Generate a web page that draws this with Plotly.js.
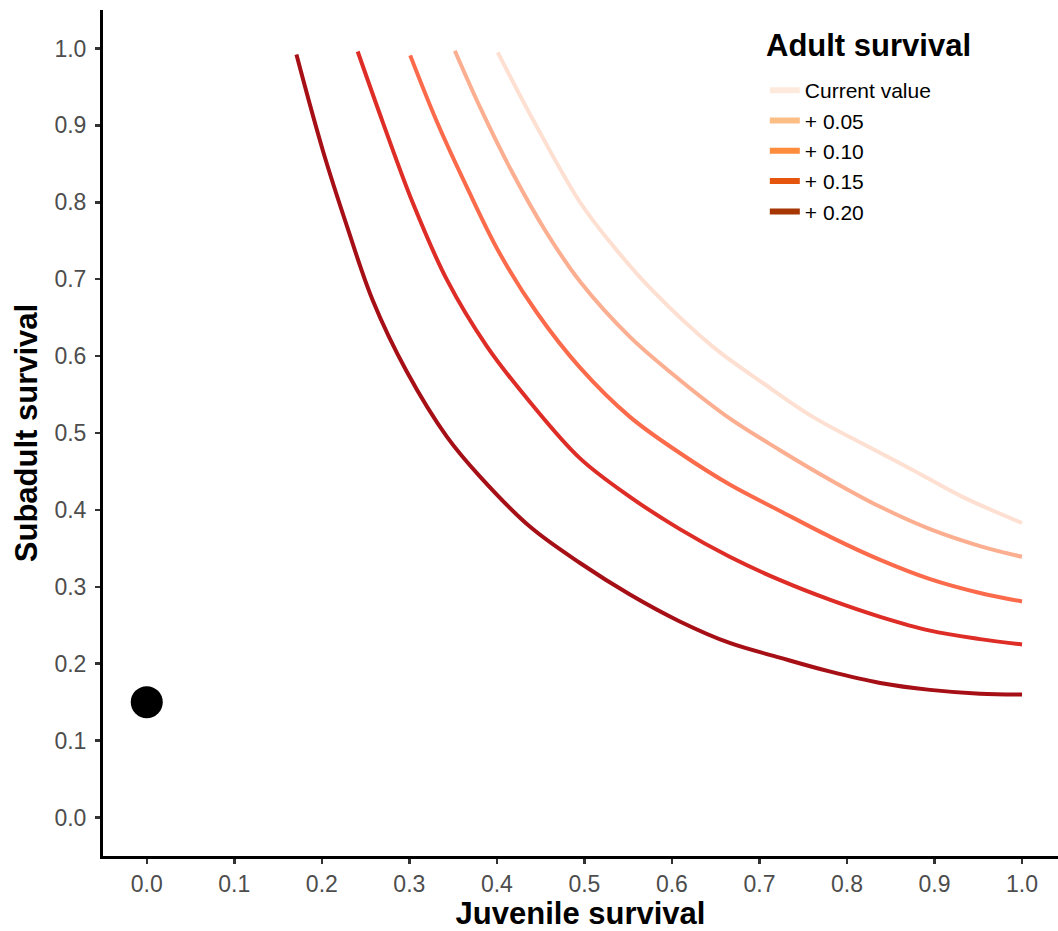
<!DOCTYPE html>
<html>
<head>
<meta charset="utf-8">
<script src="https://cdn.plot.ly/plotly-3.0.1.min.js"></script>
<style>html,body{margin:0;padding:0;background:#fff;}#chart{width:1058px;height:931px;}</style>
</head>
<body>
<div id="chart"></div>
<script>
// Series labels (legend) and colours
const legendTitle = "Adult survival";
const seriesNames = ["Current value", "+ 0.05", "+ 0.10", "+ 0.15", "+ 0.20"];
const lineColors = ["#fee0d2", "#fcae91", "#fb6a4a", "#de2d26", "#a50f15"];
const legendColors = ["#feeadd", "#fdbe85", "#fd8d3c", "#e6550d", "#a63603"];

// Curve: current adult survival
const xCurrent = [0.401, 0.441, 0.495, 0.533, 0.578, 0.647, 0.704, 0.761, 0.818, 0.875, 0.932, 1.0];
const yCurrent = [0.995, 0.908, 0.800, 0.743, 0.685, 0.612, 0.565, 0.521, 0.486, 0.452, 0.417, 0.383];

// Curve: +0.05
const xPlus05 = [0.352, 0.381, 0.418, 0.457, 0.495, 0.552, 0.609, 0.666, 0.723, 0.781, 0.838, 0.895, 0.952, 1.0];
const yPlus05 = [0.997, 0.923, 0.838, 0.760, 0.697, 0.625, 0.569, 0.519, 0.478, 0.439, 0.404, 0.375, 0.353, 0.339];

// Curve: +0.10
const xPlus10 = [0.301, 0.331, 0.366, 0.403, 0.446, 0.495, 0.552, 0.609, 0.666, 0.723, 0.781, 0.838, 0.895, 0.952, 1.0];
const yPlus10 = [0.991, 0.906, 0.819, 0.734, 0.656, 0.585, 0.521, 0.474, 0.433, 0.399, 0.365, 0.335, 0.310, 0.292, 0.281];

// Curve: +0.15
const xPlus15 = [0.241, 0.270, 0.304, 0.343, 0.389, 0.438, 0.495, 0.552, 0.609, 0.666, 0.723, 0.781, 0.838, 0.895, 0.952, 1.0];
const yPlus15 = [0.996, 0.903, 0.799, 0.699, 0.612, 0.540, 0.467, 0.417, 0.375, 0.339, 0.309, 0.283, 0.261, 0.243, 0.232, 0.225];

// Curve: +0.20
const xPlus20 = [0.171, 0.201, 0.229, 0.258, 0.297, 0.343, 0.381, 0.438, 0.495, 0.552, 0.609, 0.666, 0.723, 0.780, 0.838, 0.895, 0.952, 1.0];
const yPlus20 = [0.992, 0.868, 0.768, 0.673, 0.580, 0.495, 0.443, 0.378, 0.331, 0.290, 0.255, 0.227, 0.208, 0.190, 0.175, 0.166, 0.161, 0.160];

// Observed point
const pointX = [0.0];
const pointY = [0.15];

// Axis ticks
const tickVals = [0.0, 0.1, 0.2, 0.3, 0.4, 0.5, 0.6, 0.7, 0.8, 0.9, 1.0];
const tickText = ["0.0", "0.1", "0.2", "0.3", "0.4", "0.5", "0.6", "0.7", "0.8", "0.9", "1.0"];

const xs = [xCurrent, xPlus05, xPlus10, xPlus15, xPlus20];
const ys = [yCurrent, yPlus05, yPlus10, yPlus15, yPlus20];

const traces = [];
for (let i = 0; i < xs.length; i++) {
  traces.push({
    x: xs[i], y: ys[i], type: "scatter", mode: "lines",
    line: {color: lineColors[i], width: 4, shape: "spline", smoothing: 1.0},
    showlegend: false, hoverinfo: "skip"
  });
}
for (let i = 0; i < seriesNames.length; i++) {
  traces.push({
    x: [null], y: [null], type: "scatter", mode: "lines",
    name: seriesNames[i],
    line: {color: legendColors[i], width: 6},
    showlegend: true
  });
}
traces.push({
  x: pointX, y: pointY, type: "scatter", mode: "markers",
  marker: {color: "#000000", size: 32}, showlegend: false
});

const axisCommon = {
  showgrid: false, zeroline: false,
  showline: true, linecolor: "#000000", linewidth: 3,
  ticks: "outside", ticklen: 5, tickwidth: 2.5, tickcolor: "#333333",
  tickvals: tickVals, ticktext: tickText,
  tickfont: {family: "Liberation Sans, Arial, sans-serif", size: 23, color: "#4d4d4d"}
};

const layout = {
  width: 1058, height: 931,
  paper_bgcolor: "#ffffff", plot_bgcolor: "#ffffff",
  margin: {l: 103, r: 0, t: 9.5, b: 74.5},
  font: {family: "Liberation Sans, Arial, sans-serif", color: "#000000"},
  xaxis: Object.assign({}, axisCommon, {
    range: [-0.05, 1.0411], ticklabelstandoff: 0,
    title: {text: "Juvenile survival", font: {size: 31, weight: "bold", color: "#000000"}, standoff: 7}
  }),
  yaxis: Object.assign({}, axisCommon, {
    range: [-0.05, 1.05], ticklabelstandoff: 4,
    title: {text: "Subadult survival", font: {size: 31, weight: "bold", color: "#000000"}, standoff: 8}
  }),
  legend: {
    x: 0.693, y: 0.929, xanchor: "left", yanchor: "top",
    bgcolor: "rgba(0,0,0,0)",
    font: {size: 21, color: "#000000"},
    itemwidth: 30, tracegroupgap: 0
  },
  annotations: [{
    text: legendTitle, xref: "paper", yref: "paper",
    x: 0.692, y: 0.958, xanchor: "left", yanchor: "middle", showarrow: false,
    font: {size: 31, weight: "bold", color: "#000000"}
  }],
  showlegend: true
};

Plotly.newPlot("chart", traces, layout, {displayModeBar: false, staticPlot: true});
</script>
</body>
</html>
